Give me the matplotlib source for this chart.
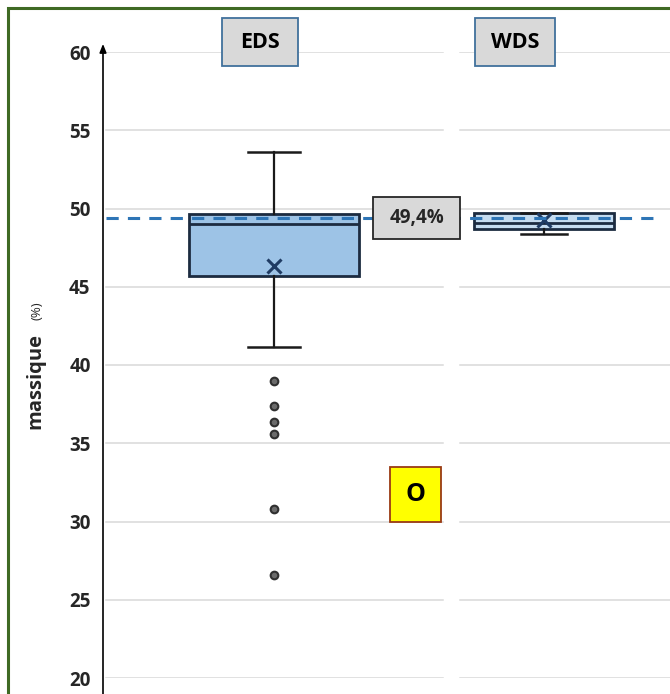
import matplotlib
matplotlib.use("Agg")
import matplotlib.pyplot as plt
from matplotlib.patches import Rectangle

plt.rcParams['font.family'] = ['Open Sans', 'DejaVu Sans']

# --- data -------------------------------------------------------------
categories = ["EDS", "WDS"]
positions = [1.0, 2.0]
box_widths = [0.63, 0.52]

q1 = [45.7, 48.7]
median = [49.0, 49.1]
q3 = [49.65, 49.7]
whisker_low = [41.15, 48.4]
whisker_high = [53.6, 49.7]
means = [46.3, 49.25]
eds_outliers = [39.0, 37.4, 36.35, 35.6, 30.8, 26.6]
wds_outliers = []

reference_value = 49.4
reference_label = "49,4%"
element_label = "O"

yticks = [20, 25, 30, 35, 40, 45, 50, 55, 60]
ylabel_main = "massique"
ylabel_unit = "(%)"

# --- figure -----------------------------------------------------------
W, H = 670, 694
fig = plt.figure(figsize=(W / 100, H / 100), dpi=100)
fig.patch.set_facecolor("white")


def fx(px):
    return px / W


def fy(py):
    return 1 - py / H


def label_box(x0, y0, x1, y1, text, size, face, edge, color="black"):
    """Boxed label placed with pixel extents (top-left origin)."""
    fig.patches.append(Rectangle((fx(x0), fy(y1)), fx(x1) - fx(x0),
                                 fy(y0) - fy(y1), transform=fig.transFigure,
                                 facecolor=face, edgecolor=edge,
                                 linewidth=1.3, zorder=10))
    fig.text(fx((x0 + x1) / 2), fy((y0 + y1) / 2), text, ha="center",
             va="center", fontsize=size, fontweight="bold", color=color,
             zorder=11)


# green frame around the chart area
fig.patches.append(Rectangle((8 / W, -0.2), 2.0, 1.2 - 8 / H,
                             transform=fig.transFigure, fill=False,
                             edgecolor="#3f6a24", linewidth=2.2, zorder=0))

ax = fig.add_axes([103 / W, 1 - 678 / H, (W - 103) / W, (678 - 52) / H])
ax.set_facecolor("none")
x_left = 1 - (274 - 103) / 270
x_right = 2 + (W - 544) / 270

for s in ax.spines.values():
    s.set_visible(False)

# horizontal gridlines, split in two panels
gap_lo = 1 + (443 - 274) / 270
gap_hi = 1 + (460 - 274) / 270
x_start = 1 + (106 - 274) / 270
for t in yticks:
    ax.plot([x_start, gap_lo], [t, t], color="#d9d9d9", lw=1.1, zorder=1)
    ax.plot([gap_hi, x_right], [t, t], color="#d9d9d9", lw=1.1, zorder=1)

# y axis with arrow head
ax.annotate("", xy=(0, 1.013), xytext=(0, -0.03), xycoords="axes fraction",
            textcoords="axes fraction",
            arrowprops=dict(arrowstyle="-|>,head_length=0.5,head_width=0.2",
                            color="black", lw=1.2, shrinkA=0, shrinkB=0),
            annotation_clip=False)

# box plots
fills = ["#9dc3e6", "#c5dcf0"]
outliers = [eds_outliers, wds_outliers]
stats = []
for i, name in enumerate(categories):
    stats.append(dict(label=name, q1=q1[i], med=median[i], q3=q3[i],
                      whislo=whisker_low[i], whishi=whisker_high[i],
                      mean=means[i], fliers=outliers[i]))

bp = ax.bxp(stats, positions=positions, widths=box_widths, patch_artist=True,
            showmeans=True, showfliers=True,
            boxprops=dict(edgecolor="#1c2b40", linewidth=2.0),
            medianprops=dict(color="#1c2b40", linewidth=2.0),
            whiskerprops=dict(color="#1a1a1a", linewidth=1.6),
            capprops=dict(color="#1a1a1a", linewidth=1.8),
            meanprops=dict(marker="x", markeredgecolor="#1f3b63",
                           markersize=10, markeredgewidth=2.2),
            flierprops=dict(marker="o", markerfacecolor="#6b6b6b",
                            markeredgecolor="#303030", markeredgewidth=1.5,
                            markersize=5.5))
for patch, c in zip(bp["boxes"], fills):
    patch.set_facecolor(c)
for art in bp["boxes"] + bp["medians"] + bp["whiskers"] + bp["caps"] + bp["means"] + bp["fliers"]:
    art.set_zorder(3)
bp["caps"][0].set_xdata([1 - 0.095, 1 + 0.095])
bp["caps"][1].set_xdata([1 - 0.095, 1 + 0.095])
bp["caps"][2].set_xdata([2 - 0.085, 2 + 0.085])
bp["caps"][3].set_xdata([2 - 0.085, 2 + 0.085])

ax.set_xlim(x_left, x_right)
ax.set_ylim(20, 60)
ax.set_xticks([])
ax.set_yticks(yticks)
ax.set_yticklabels([str(t) for t in yticks], fontsize=13.5, fontweight="bold",
                   color="#262626")
ax.tick_params(axis="y", length=0, pad=9)

# reference dashed line
ax.plot([x_start, 2 + (655 - 544) / 270], [reference_value, reference_value],
        color="#2e75b6", lw=2.2, ls=(0, (4, 3)), zorder=4)

# value label centred on the reference line
ref_py = ax.transData.transform((0, reference_value))[1]
ref_cy = H - ref_py
label_box(373, ref_cy - 21, 460, ref_cy + 21, reference_label, 13.5,
          "#d9d9d9", "#262626", color="#262626")

label_box(390, 467, 441, 522, element_label, 18, "#ffff00", "#9a3a14")

# category headers
label_box(222, 18, 298, 66, categories[0], 15.5, "#d9d9d9", "#41719c")
label_box(475, 18, 555, 66, categories[1], 15.5, "#d9d9d9", "#41719c")

# y label: bold word with smaller unit
fig.text(35 / W, 1 - 381 / H, ylabel_main, rotation=90, ha="center",
         va="center", fontsize=14.5, fontweight="bold", color="#262626")
fig.text(37 / W, 1 - 311 / H, ylabel_unit, rotation=90, ha="center",
         va="center", fontsize=9.5, color="#262626")

fig.savefig("out.png", dpi=100)
